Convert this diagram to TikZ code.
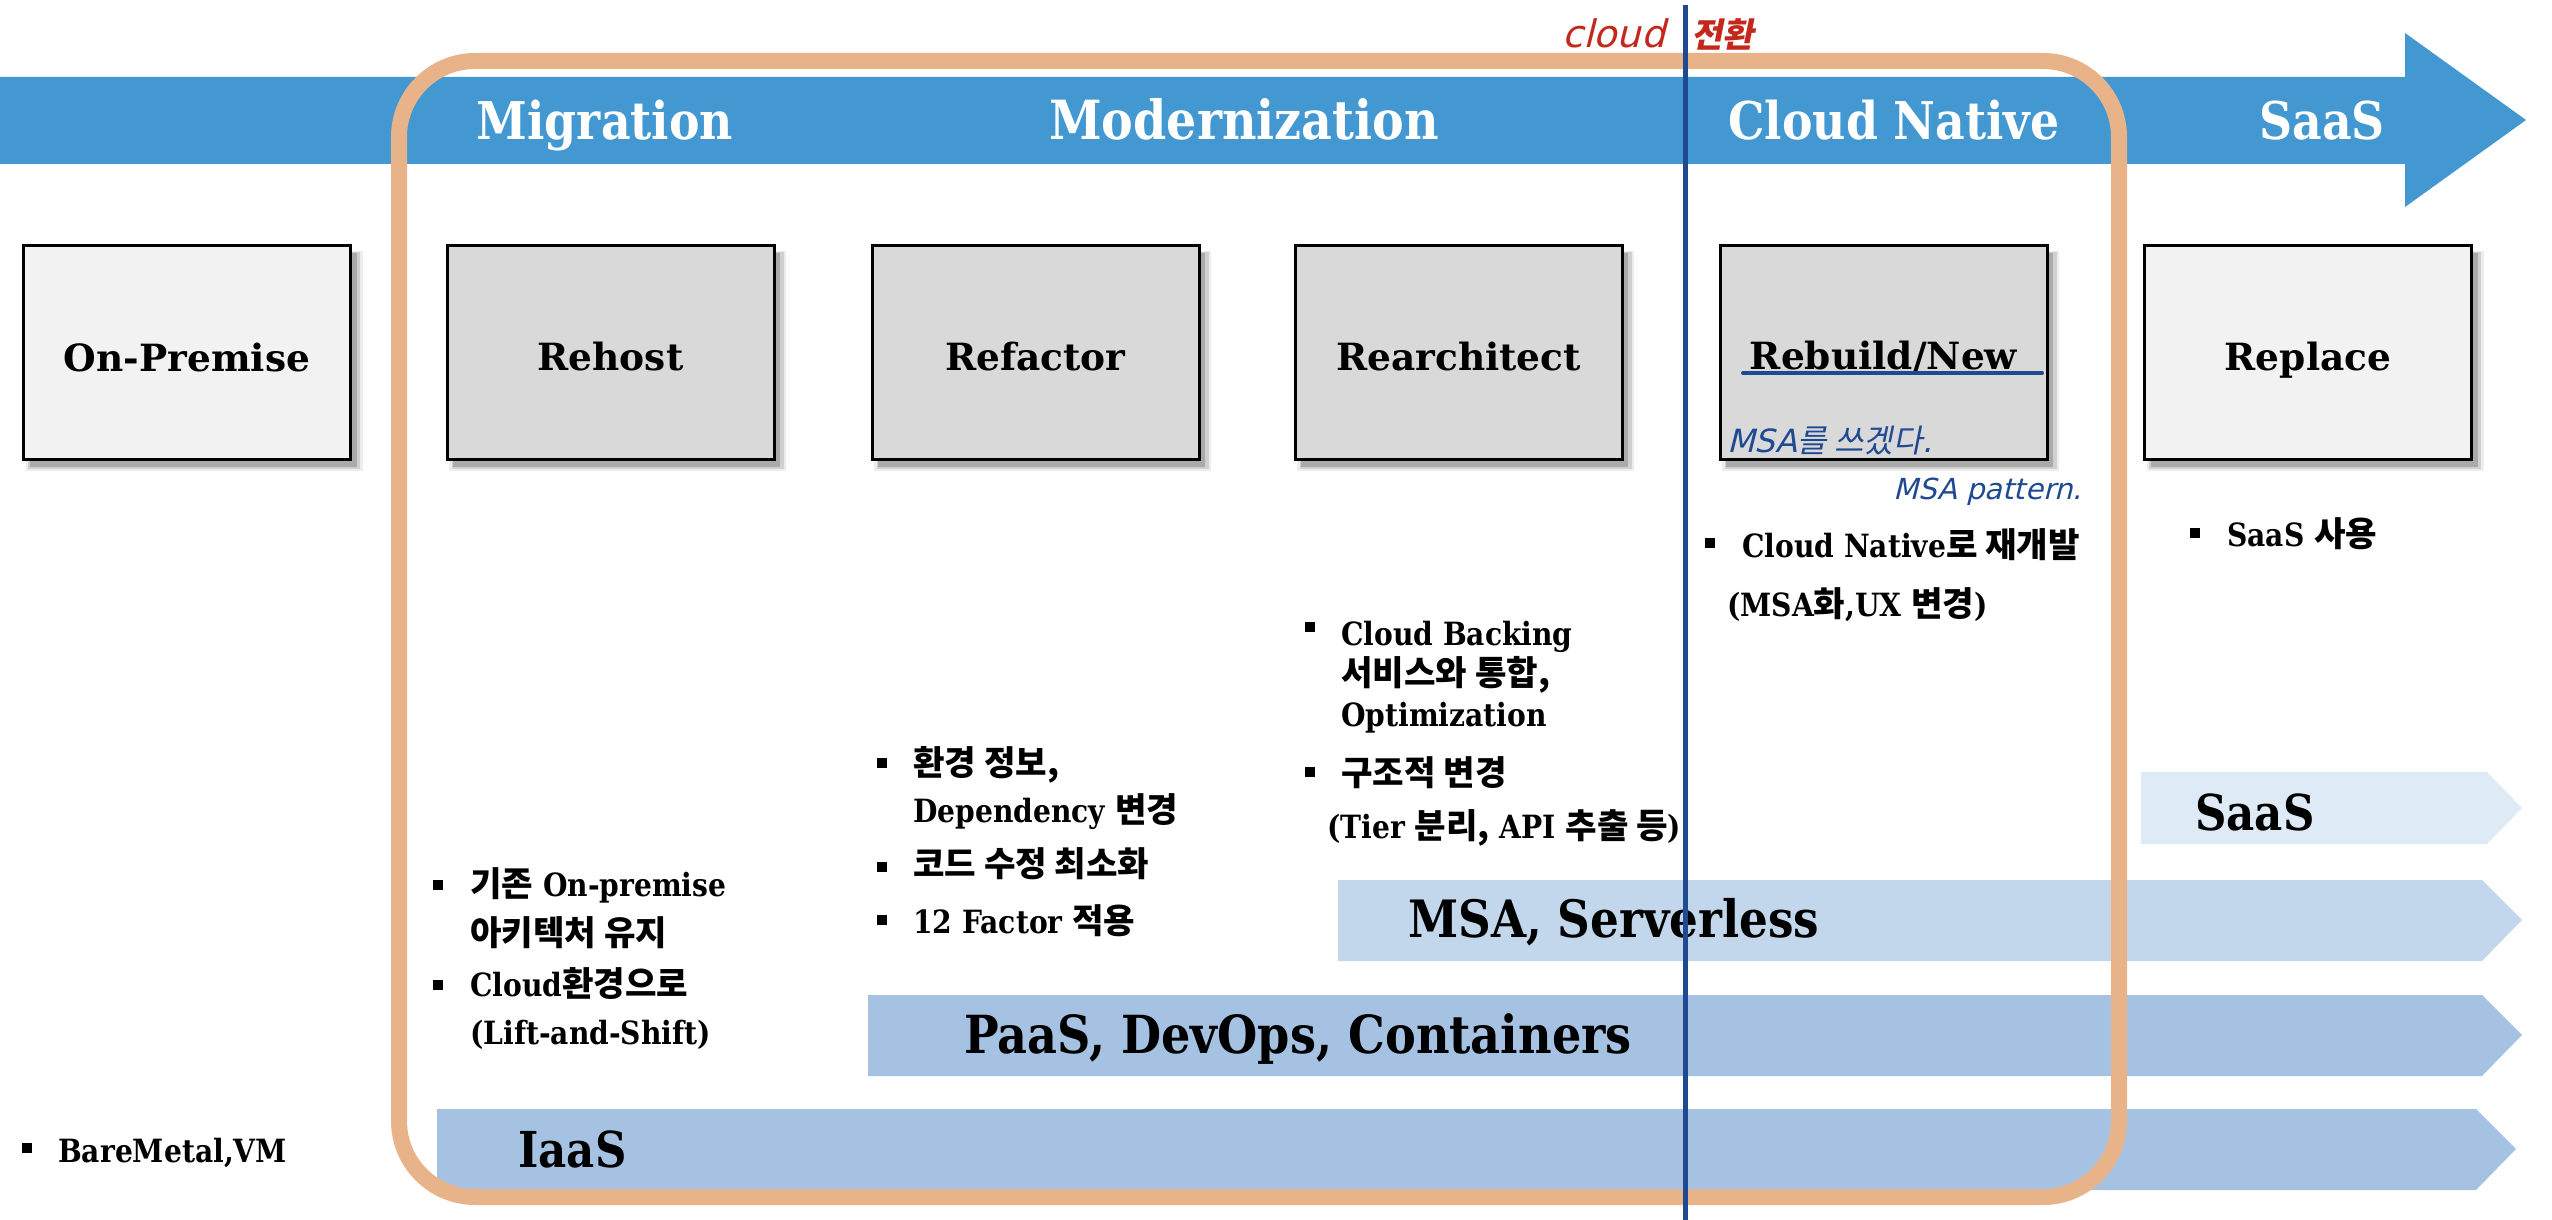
\documentclass[tikz,border=0pt]{standalone}
\usepackage{fontspec}
\setmainfont{DejaVu Serif}
\newfontfamily\kr{Noto Sans CJK KR}[Scale=1.07]
\newfontfamily\tf{DejaVu Serif}[FakeStretch=0.88]
\newfontfamily\hw{DejaVu Sans}[FakeSlant=0.25]
\newfontfamily\hwkr{Noto Sans CJK KR}[FakeSlant=0.2]
\newcommand\K[1]{{\kr #1}}
\usetikzlibrary{shadows}
\definecolor{bandc}{RGB}{68,152,210}
\definecolor{orgc}{RGB}{233,179,137}
\definecolor{vlinec}{RGB}{31,73,145}
\definecolor{ribA}{RGB}{166,194,226}
\definecolor{ribB}{RGB}{194,215,236}
\definecolor{ribC}{RGB}{222,234,246}
\definecolor{boxd}{RGB}{217,217,217}
\definecolor{boxl}{RGB}{242,242,242}
\definecolor{hred}{RGB}{196,40,28}
\tikzset{
  stagebox/.style={draw=black, line width=3pt, minimum width=327pt, minimum height=214pt, inner sep=0pt, outer sep=0pt,
    general shadow={fill=black, opacity=.07, shadow xshift=7pt, shadow yshift=-8pt, shadow scale=1.03},
    general shadow={fill=black, opacity=.12, shadow xshift=7pt, shadow yshift=-8pt, shadow scale=1.015},
    general shadow={fill=black, opacity=.18, shadow xshift=6pt, shadow yshift=-7pt}},
  boxlabel/.style={anchor=base, inner sep=0pt, font=\fontsize{37.5}{44}\selectfont\bfseries},
  bandtitle/.style={anchor=base, inner sep=0pt, text=white, font=\tf\fontsize{52}{60}\selectfont\bfseries},
  ribtext/.style={anchor=base west, inner sep=0pt, font=\tf\fontsize{49.5}{58}\selectfont\bfseries},
  txt/.style={anchor=base west, inner sep=0pt, font=\tf\fontsize{32}{36}\selectfont\bfseries},
  bul/.style={fill=black, minimum size=10pt, inner sep=0pt, outer sep=0pt},
  hwred/.style={anchor=base west, inner sep=0pt, text=hred},
  hwblue/.style={anchor=base west, inner sep=0pt, text=vlinec},
}
\begin{document}
\begin{tikzpicture}[x=1pt, y=-1pt]
\useasboundingbox (0,0) rectangle (2552,1220);
% top band arrow
\fill[bandc] (0,77) -- (2405,77) -- (2405,33) -- (2526,120) -- (2405,207) -- (2405,164) -- (0,164) -- cycle;
\node[bandtitle] (tMig) at (605,140) {Migration};
\node[bandtitle, font=\tf\fontsize{54}{60}\selectfont\bfseries] (tMod) at (1244,140) {Modernization};
\node[bandtitle] (tCN) at (1894,140) {Cloud Native};
\node[bandtitle] (tSaaS) at (2322,140) {SaaS};
% stage boxes
\node[stagebox, fill=boxl] (onp) at (187,352.5) {};
\node[stagebox, fill=boxd] (rehost) at (610.5,352.5) {};
\node[stagebox, fill=boxd] (refactor) at (1035.5,352.5) {};
\node[stagebox, fill=boxd] (rearch) at (1458.5,352.5) {};
\node[stagebox, fill=boxd] (rebuild) at (1883.5,352.5) {};
\node[stagebox, fill=boxl] (replace) at (2308,352.5) {};
\node[boxlabel] (lonp) at (187,371) {On-Premise};
\node[boxlabel] (lrehost) at (610.5,370) {Rehost};
\node[boxlabel] (lrefactor) at (1035.5,370) {Refactor};
\node[boxlabel] (lrearch) at (1458.5,370) {Rearchitect};
\node[boxlabel] (lrebuild) at (1883.5,369) {Rebuild/New};
\node[boxlabel] (lreplace) at (2308,370) {Replace};
% ribbons
\fill[ribC] (2141,772) -- (2487,772) -- (2522,808) -- (2487,844) -- (2141,844) -- cycle;
\fill[ribB] (1338,880) -- (2482,880) -- (2522,920) -- (2482,961) -- (1338,961) -- cycle;
\fill[ribA] (868,995) -- (2482,995) -- (2522,1035) -- (2482,1076) -- (868,1076) -- cycle;
\fill[ribA] (437,1109) -- (2476,1109) -- (2516,1149) -- (2476,1190) -- (437,1190) -- cycle;
\node[ribtext] (rSaaS) at (2195,830) {SaaS};
\node[ribtext, font=\tf\fontsize{51.5}{58}\selectfont\bfseries] (rMSA) at (1408,937) {MSA, Serverless};
\node[ribtext, font=\tf\fontsize{52.5}{58}\selectfont\bfseries] (rPaaS) at (964,1053) {PaaS, DevOps, Containers};
\node[ribtext] (rIaaS) at (518,1167) {IaaS};
% bullets: On-Premise
\node[bul] (b0) at (27,1148) {};
\node[txt] (t0) at (58,1162) {BareMetal,VM};
% Rehost
\node[bul] (b1) at (438,885) {};
\node[txt] (t1a) at (470,896) {\K{기존} On-premise};
\node[txt] (t1b) at (470,945) {\K{아키텍처 유지}};
\node[bul] (b2) at (438,985) {};
\node[txt] (t2a) at (470,996) {Cloud\K{환경으로}};
\node[txt] (t2b) at (470,1044) {(Lift-and-Shift)};
% Refactor
\node[bul] (b3) at (882,763) {};
\node[txt] (t3a) at (913,775) {\K{환경 정보,}};
\node[txt] (t3b) at (913,822) {Dependency \K{변경}};
\node[bul] (b4) at (882,867) {};
\node[txt] (t4) at (913,876) {\K{코드 수정 최소화}};
\node[bul] (b5) at (882,920) {};
\node[txt] (t5) at (913,933) {12 Factor \K{적용}};
% Rearchitect
\node[bul] (b6) at (1310,627) {};
\node[txt] (t6a) at (1341,645) {Cloud Backing};
\node[txt] (t6b) at (1341,685) {\K{서비스와 통합,}};
\node[txt] (t6c) at (1341,726) {Optimization};
\node[bul] (b7) at (1310,772) {};
\node[txt] (t7a) at (1341,785) {\K{구조적 변경}};
\node[txt] (t7b) at (1327,838) {(Tier \K{분리,} API \K{추출 등})};
% Rebuild
\node[bul] (b8) at (1710,543) {};
\node[txt] (t8a) at (1742,557) {Cloud Native\K{로 재개발}};
\node[txt] (t8b) at (1727,616) {(MSA\K{화},UX \K{변경})};
% Replace
\node[bul] (b9) at (2195,533) {};
\node[txt] (t9) at (2227,546) {SaaS \K{사용}};
% orange frame
\draw[orgc, line width=16pt, rounded corners=76pt] (399,61) rectangle (2119,1197);
% vertical line
\coordinate (vtop) at (1685,5);
\coordinate (vbot) at (1685,1220);
\draw[vlinec, line width=5pt] (vtop) -- (vbot);
% handwriting
\node[hwred, font=\hw\fontsize{38}{42}\selectfont] (hw1) at (1562,48) {cloud};
\node[hwred, font=\hwkr\fontsize{34}{38}\selectfont\bfseries] (hw2) at (1691,48) {전환};
\coordinate (ulA) at (1743,373);
\coordinate (ulB) at (2042,373);
\draw[vlinec, line width=4pt, line cap=round] (ulA) -- (ulB);
\node[hwblue, font=\hw\fontsize{32}{36}\selectfont] (hw3) at (1727,452) {MSA{\hwkr 를 쓰겠다}.};
\node[hwblue, font=\hw\fontsize{29}{32}\selectfont] (hw4) at (1893,499) {MSA pattern.};
\end{tikzpicture}
\end{document}
